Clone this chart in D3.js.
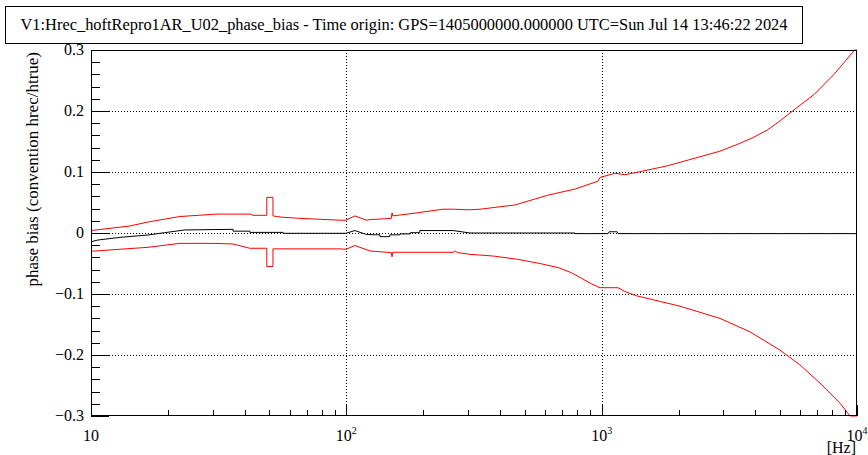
<!DOCTYPE html>
<html>
<head>
<meta charset="utf-8">
<script src="https://cdn.jsdelivr.net/npm/d3@7"></script>
<style>
  body { margin: 0; background: #fff; }
  svg text { font-family: 'Liberation Serif', 'DejaVu Serif', serif; }
</style>
</head>
<body>
<div id="chart"></div>
<script>
// values (frequency in Hz, phase bias in rad)
const upperFreq = [10, 10, 14.2, 16.7, 22.3, 31.2, 42.3, 43, 48.8, 48.8, 51.6, 51.6, 55.5, 65.9, 94.5, 99.7, 108, 120, 124, 150, 151, 152, 189, 239, 262, 305, 334, 458, 616, 786, 968, 985, 1130, 1234, 1413, 1803, 2427, 2900, 3388, 3900, 4461, 5000, 5514, 6812, 8166, 9787, 10000];
const upperBias = [-0.31, 0.004, 0.0115, 0.018, 0.027, 0.031, 0.031, 0.029, 0.029, 0.0585, 0.0585, 0.028, 0.026, 0.024, 0.021, 0.021, 0.028, 0.021, 0.022, 0.024, 0.033, 0.028, 0.033, 0.039, 0.039, 0.038, 0.039, 0.046, 0.062, 0.072, 0.085, 0.091, 0.098, 0.0955, 0.1005, 0.110, 0.125, 0.134, 0.145, 0.156, 0.169, 0.184, 0.198, 0.2275, 0.261, 0.300, 0.305];

const lowerFreq = [10, 11.66, 16.7, 22.3, 30, 36, 41.9, 48.8, 48.8, 51.6, 51.6, 94.5, 99.7, 108, 124, 148, 150, 151, 152, 262, 267, 272, 305, 375, 467, 573, 680, 760, 840, 910, 985, 1159, 1234, 1372, 2027, 2907, 3810, 4994, 5971, 7161, 8579, 9389, 10000];
const lowerBias = [-0.030, -0.028, -0.0235, -0.017, -0.017, -0.018, -0.025, -0.025, -0.055, -0.055, -0.026, -0.026, -0.0267, -0.0205, -0.0295, -0.032, -0.032, -0.039, -0.0316, -0.0316, -0.0295, -0.032, -0.035, -0.0377, -0.043, -0.050, -0.057, -0.065, -0.075, -0.083, -0.0897, -0.0897, -0.096, -0.103, -0.12, -0.14, -0.162, -0.192, -0.216, -0.246, -0.279, -0.30, -0.31];

const centerFreq = [10, 10.65, 13.1, 16.7, 19.4, 23.3, 36, 36, 41.9, 41.9, 56.5, 56.5, 99.7, 108, 120, 135.5, 135.5, 148, 148, 162, 162, 178, 178, 194, 194, 262, 305, 786, 786, 1060, 1070, 1150, 1160, 10000];
const centerBias = [-0.0143, -0.0115, -0.007, -0.0033, 0.0005, 0.005, 0.006, 0.003, 0.003, 0.001, 0.001, -0.0005, -0.0005, 0.004, -0.0025, -0.003, -0.006, -0.006, -0.003, -0.003, -0.0015, -0.0015, 0.0005, 0.0005, 0.004, 0.004, 0.0, 0.0, -0.001, -0.001, 0.002, 0.002, -0.001, -0.001];

const yMajorTicks = [-0.3, -0.2, -0.1, 0, 0.1, 0.2, 0.3];
const yTickLabels = ['\u22120.3', '\u22120.2', '\u22120.1', '0', '0.1', '0.2', '0.3'];
const xMajorTicks = [10, 100, 1000, 10000];
const xTickExponents = [null, '2', '3', '4'];

const titleText = 'V1:Hrec_hoftRepro1AR_U02_phase_bias - Time origin: GPS=1405000000.000000 UTC=Sun Jul 14 13:46:22 2024';
const yTitle = 'phase bias (convention hrec/htrue)';

const W = 868, H = 455;
const margin = { top: 50, right: 11, bottom: 39, left: 91 };
const width = W - margin.left - margin.right;
const height = H - margin.top - margin.bottom;

const svg = d3.select('#chart').append('svg')
    .attr('width', W)
    .attr('height', H);

const x = d3.scaleLog().domain([10, 10000]).range([0, width]);
const y = d3.scaleLinear().domain([-0.3, 0.3]).range([height, 0]).clamp(true);

const g = svg.append('g').attr('transform', `translate(${margin.left},${margin.top})`);

// grid (dotted, like ROOT)
g.append('g').selectAll('line')
    .data([100, 1000])
    .join('line')
    .attr('x1', d => Math.round(x(d)) + 0.5).attr('x2', d => Math.round(x(d)) + 0.5)
    .attr('y1', 0).attr('y2', height)
    .attr('stroke', '#000').attr('stroke-dasharray', '1,2');
g.append('g').selectAll('line')
    .data([-0.2, -0.1, 0, 0.1, 0.2])
    .join('line')
    .attr('x1', 0).attr('x2', width)
    .attr('y1', d => Math.round(y(d)) + 0.5).attr('y2', d => Math.round(y(d)) + 0.5)
    .attr('stroke', '#000').attr('stroke-dasharray', '1,2');

svg.append('clipPath').attr('id', 'clip')
    .append('rect').attr('x', 0).attr('y', -1).attr('width', width).attr('height', height + 2);

const line = d3.line()
    .x(d => x(d[0]))
    .y(d => y(d[1]));

const series = [
    { f: upperFreq, v: upperBias, color: '#ff0000' },
    { f: lowerFreq, v: lowerBias, color: '#ff0000' },
    { f: centerFreq, v: centerBias, color: '#000000' }
];
series.forEach(s => {
    g.append('path')
        .datum(s.f.map((f, i) => [f, s.v[i]]))
        .attr('clip-path', 'url(#clip)')
        .attr('fill', 'none')
        .attr('stroke', s.color)
        .attr('stroke-width', 1)
        .attr('d', line);
});

// frame
g.append('rect')
    .attr('x', 0.5).attr('y', 0.5)
    .attr('width', width - 1).attr('height', height - 1)
    .attr('fill', 'none').attr('stroke', '#000');

// y ticks, pointing inwards
const yMinor = d3.range(-15, 16).map(i => i * 0.02);
g.append('g').selectAll('line')
    .data(yMinor)
    .join('line')
    .attr('x1', 0).attr('x2', (d, i) => (i % 5 === 0) ? 18 : 9)
    .attr('y1', d => Math.round(y(d)) + 0.5).attr('y2', d => Math.round(y(d)) + 0.5)
    .attr('stroke', '#000');

// x ticks
const xMinor = [];
[10, 100, 1000].forEach(dec => { for (let k = 2; k <= 9; k++) xMinor.push(dec * k); });
g.append('g').selectAll('line')
    .data(xMinor)
    .join('line')
    .attr('x1', d => Math.round(x(d)) + 0.5).attr('x2', d => Math.round(x(d)) + 0.5)
    .attr('y1', height).attr('y2', height - 6)
    .attr('stroke', '#000');
g.append('g').selectAll('line')
    .data(xMajorTicks)
    .join('line')
    .attr('x1', d => Math.round(x(d)) + 0.5).attr('x2', d => Math.round(x(d)) + 0.5)
    .attr('y1', height).attr('y2', height - 11)
    .attr('stroke', '#000');

// y tick labels
g.append('g').selectAll('text')
    .data(yMajorTicks)
    .join('text')
    .attr('x', -7)
    .attr('y', d => y(d) + 5)
    .attr('text-anchor', 'end')
    .attr('font-size', 16)
    .text((d, i) => yTickLabels[i]);

// x tick labels (10, 10^2, ...)
const xl = g.append('g').selectAll('text')
    .data(xMajorTicks)
    .join('text')
    .attr('x', d => x(d))
    .attr('y', height + 25)
    .attr('text-anchor', 'middle')
    .attr('font-size', 16);
xl.append('tspan').text('10');
xl.filter((d, i) => xTickExponents[i] !== null)
    .append('tspan')
    .attr('dy', -7)
    .attr('font-size', 10)
    .text((d) => xTickExponents[xMajorTicks.indexOf(d)]);

// axis titles
g.append('text')
    .attr('x', width - 1)
    .attr('y', height + 37)
    .attr('text-anchor', 'end')
    .attr('font-size', 16)
    .text('[Hz]');

svg.append('text')
    .attr('transform', `translate(38,${margin.top + 2}) rotate(-90)`)
    .attr('text-anchor', 'end')
    .attr('font-size', 17)
    .text(yTitle);

// title box
svg.append('rect')
    .attr('x', 5.5).attr('y', 6.5)
    .attr('width', 797).attr('height', 37)
    .attr('fill', '#fff').attr('stroke', '#000');
svg.append('text')
    .attr('x', 404)
    .attr('y', 30)
    .attr('text-anchor', 'middle')
    .attr('font-size', 16.4)
    .text(titleText);
</script>
</body>
</html>
